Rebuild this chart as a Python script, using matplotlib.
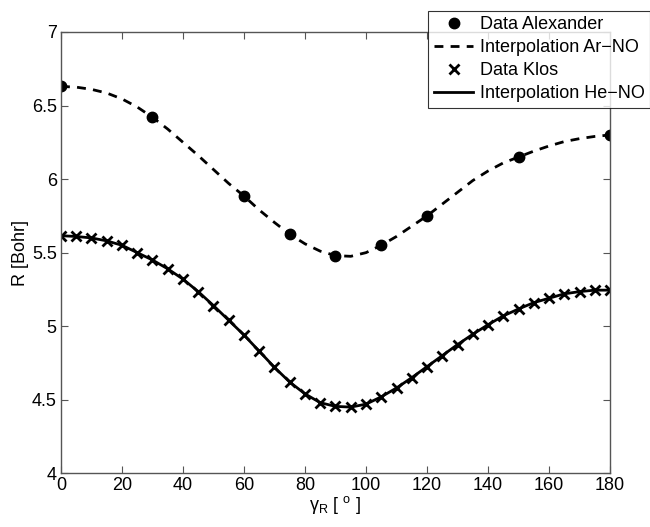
import matplotlib
matplotlib.use("Agg")
import matplotlib.pyplot as plt

plt.rcParams["font.family"] = ["Liberation Sans", "DejaVu Sans"]
plt.rcParams["mathtext.fontset"] = "custom"
plt.rcParams["mathtext.rm"] = "Liberation Sans"
plt.rcParams["mathtext.it"] = "Liberation Sans"

# Data Alexander (Ar-NO)
alex_angle = [0, 30, 60, 75, 90, 105, 120, 150, 180]
alex_r = [6.63, 6.42, 5.885, 5.625, 5.48, 5.55, 5.75, 6.15, 6.30]

# Interpolation Ar-NO (every 5 degrees)
ar_angle = list(range(0, 181, 5))
ar_r = [6.63, 6.625, 6.61, 6.585, 6.545, 6.49, 6.42, 6.34, 6.25, 6.16,
        6.065, 5.97, 5.885, 5.79, 5.705, 5.625, 5.56, 5.51, 5.48, 5.475,
        5.50, 5.55, 5.61, 5.68, 5.75, 5.83, 5.91, 5.99, 6.055, 6.11,
        6.15, 6.19, 6.225, 6.255, 6.275, 6.29, 6.30]

# Data Klos (He-NO)
klos_angle = list(range(0, 181, 5))
klos_r = [5.615, 5.61, 5.60, 5.58, 5.55, 5.50, 5.45, 5.39, 5.32, 5.235,
          5.14, 5.04, 4.94, 4.83, 4.72, 4.62, 4.54, 4.48, 4.455, 4.45,
          4.47, 4.52, 4.58, 4.65, 4.725, 4.80, 4.875, 4.945, 5.01, 5.07,
          5.117, 5.16, 5.19, 5.22, 5.235, 5.245, 5.245]

fig = plt.figure(figsize=(6.5, 5.27), dpi=100)
ax = fig.add_axes([0.0938, 0.1019, 0.8447, 0.8374])

ax.plot(alex_angle, alex_r, "o", color="black", markersize=7.5, label="Data Alexander")
ax.plot(ar_angle, ar_r, "--", color="black", linewidth=2, dashes=(3.2, 2.6),
        label="Interpolation Ar\u2212NO")
ax.plot(klos_angle, klos_r, "x", color="black", markersize=7, markeredgewidth=2,
        label="Data Klos")
ax.plot(klos_angle, klos_r, "-", color="black", linewidth=2, label="Interpolation He\u2212NO")

ax.set_xlim(0, 180)
ax.set_ylim(4, 7)
ax.set_xticks(range(0, 181, 20))
ax.set_yticks([4, 4.5, 5, 5.5, 6, 6.5, 7])
ax.set_yticklabels(["4", "4.5", "5", "5.5", "6", "6.5", "7"])
ax.tick_params(direction="in", top=True, right=True, labelsize=13, length=5,
               color="#555555", pad=3)
for s in ax.spines.values():
    s.set_color("#555555")
    s.set_linewidth(1)

ax.set_xlabel(r"$\gamma_R$ [ $^{\rm o}$ ]", fontsize=13, labelpad=0)
ax.set_ylabel("R [Bohr]", fontsize=13, labelpad=2)

leg = ax.legend(loc="upper right", bbox_to_anchor=(1.0, 0.979),
                bbox_transform=fig.transFigure, fontsize=13, frameon=True,
                fancybox=False, borderpad=0.3, labelspacing=0.33,
                handlelength=2.2, handletextpad=0.35, borderaxespad=0)
leg.get_frame().set_edgecolor("black")
leg.get_frame().set_linewidth(0.8)

fig.savefig("out.png", dpi=100)
